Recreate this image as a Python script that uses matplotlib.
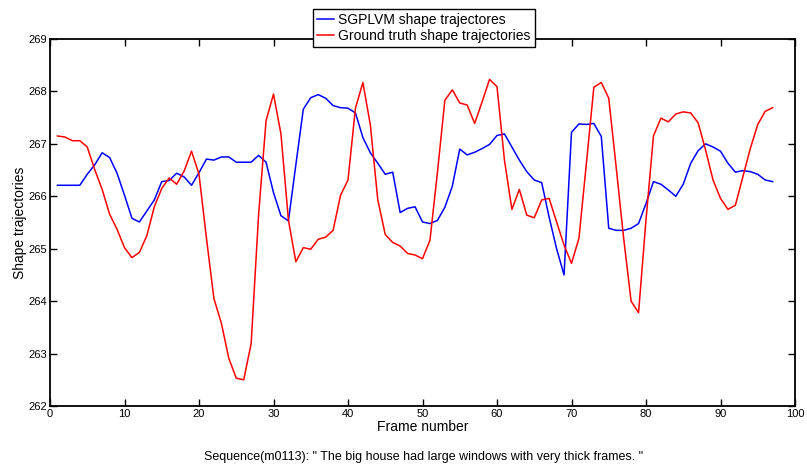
import matplotlib
matplotlib.use("Agg")
from matplotlib import pyplot as plt

frames = list(range(1, 98))

sgplvm = [
    266.21, 266.21, 266.21, 266.21, 266.42, 266.60, 266.83, 266.74, 266.44, 266.02,
    265.58, 265.51, 265.72, 265.93, 266.28, 266.30, 266.44, 266.37, 266.21, 266.45,
    266.71, 266.69, 266.75, 266.75, 266.65, 266.65, 266.65, 266.78, 266.65, 266.07,
    265.63, 265.53, 266.60, 267.66, 267.88, 267.94, 267.87, 267.73, 267.69, 267.68,
    267.59, 267.12, 266.83, 266.63, 266.42, 266.46, 265.69, 265.77, 265.80, 265.51,
    265.48, 265.54, 265.79, 266.19, 266.90, 266.79, 266.84, 266.91, 266.99, 267.16,
    267.19, 266.94, 266.69, 266.47, 266.31, 266.26, 265.60, 265.00, 264.50, 267.22,
    267.38, 267.37, 267.39, 267.14, 265.39, 265.35, 265.35, 265.39, 265.48, 265.86,
    266.28, 266.23, 266.12, 266.00, 266.23, 266.63, 266.87, 267.00, 266.94, 266.86,
    266.63, 266.46, 266.49, 266.47, 266.42, 266.31, 266.28,
]

ground_truth = [
    267.15, 267.13, 267.06, 267.06, 266.94, 266.51, 266.13, 265.66, 265.37, 265.02,
    264.83, 264.93, 265.25, 265.80, 266.15, 266.35, 266.23, 266.48, 266.86, 266.42,
    265.20, 264.05, 263.58, 262.91, 262.53, 262.50, 263.19, 265.65, 267.44, 267.95,
    267.19, 265.55, 264.75, 265.02, 264.99, 265.18, 265.22, 265.35, 266.02, 266.31,
    267.68, 268.17, 267.36, 265.93, 265.27, 265.12, 265.05, 264.91, 264.88, 264.81,
    265.16, 266.45, 267.83, 268.03, 267.78, 267.74, 267.39, 267.80, 268.23, 268.09,
    266.69, 265.75, 266.13, 265.64, 265.59, 265.93, 265.96, 265.51, 265.07, 264.72,
    265.20, 266.63, 268.08, 268.17, 267.87, 266.55, 265.20, 264.00, 263.78, 265.55,
    267.15, 267.49, 267.42, 267.57, 267.61, 267.59, 267.40, 266.88, 266.31, 265.96,
    265.75, 265.83, 266.37, 266.91, 267.37, 267.62, 267.69,
]

caption = 'Sequence(m0113): " The big house had large windows with very thick frames. "'

plt.rcParams["font.family"] = ["Liberation Sans", "DejaVu Sans"]

fig = plt.figure(figsize=(8.07, 4.71), dpi=100)
ax = fig.add_axes([50 / 807, 1 - 406 / 471, 745 / 807, 367 / 471])

ax.plot(frames, sgplvm, color="#0000ff", lw=1.1, label="SGPLVM shape trajectores")
ax.plot(frames, ground_truth, color="#ff0000", lw=1.1, label="Ground truth shape trajectories")

ax.set_xlim(0, 100)
ax.set_ylim(262, 269)
ax.set_xticks(range(0, 101, 10))
ax.set_yticks(range(262, 270))
ax.tick_params(direction="in", top=True, right=True, length=5, width=1, labelsize=8, pad=2)
for sp in ax.spines.values():
    sp.set_linewidth(1.3)

ax.set_xlabel("Frame number", fontsize=10, labelpad=1)
ax.set_ylabel("Shape trajectories", fontsize=10, labelpad=1)

leg = fig.legend(loc="upper center", bbox_to_anchor=(424 / 807, 1 - 9 / 471),
                 fontsize=10, frameon=True, fancybox=False, framealpha=1,
                 edgecolor="black", handlelength=1.2, handletextpad=0.3,
                 borderpad=0.3, labelspacing=0.1, borderaxespad=0)
leg.get_frame().set_linewidth(1.0)

fig.text(424 / 807, 1 - 457 / 471, caption, ha="center", va="center", fontsize=9)

fig.savefig("out.png", dpi=100)
